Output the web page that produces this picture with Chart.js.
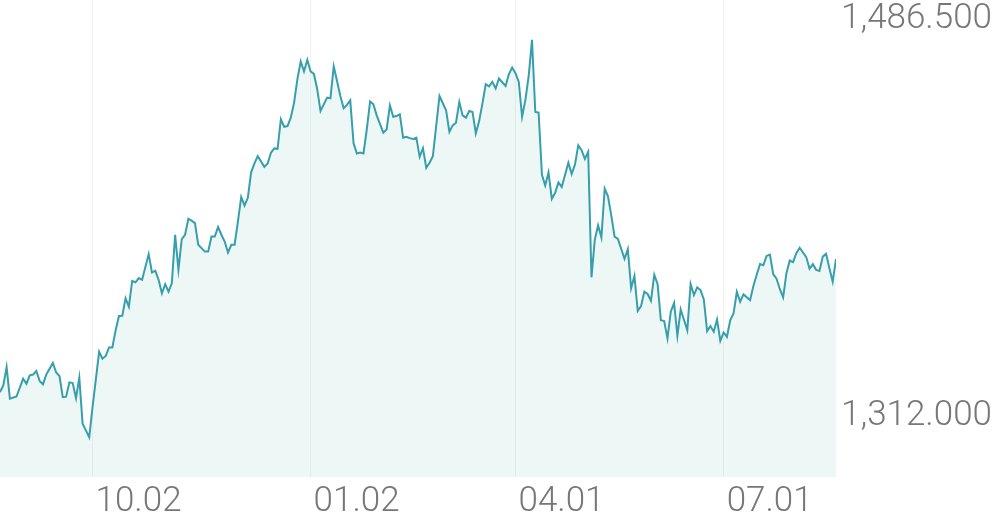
<!DOCTYPE html>
<html>
<head>
<meta charset="utf-8">
<script src="https://cdn.jsdelivr.net/npm/chart.js@4.4.1/dist/chart.umd.min.js"></script>
<style>
  html, body { margin: 0; padding: 0; background: #ffffff; }
  #wrap { width: 996px; height: 519px; position: relative; }
</style>
</head>
<body>
<div id="wrap"><canvas id="c" width="996" height="519"></canvas></div>
<script>
// Trading-day index of each observation
const dayIndex = [
  0,1,2,3,5,7,8,9,10,11,12,13,14,15,16,17,18,19,20,21,22,23,24,25,27,28,
  30,31,32,33,34,35,36,37,38,39,40,41,42,43,45,46,47,48,49,50,51,52,53,54,55,56,57,58,59,60,
  62,63,64,65,66,67,68,69,70,71,72,73,74,75,76,77,78,80,81,82,83,84,85,86,87,88,89,90,
  91,92,93,94,95,96,97,99,100,101,102,103,104,105,106,107,108,109,110,111,112,113,114,116,117,118,119,120,
  121,122,123,124,125,126,127,128,129,130,131,132,133,135,136,137,138,139,140,141,142,143,144,145,146,147,148,149,150,
  151,153,154,155,156,157,158,159,160,161,162,163,164,165,166,167,168,169,170,172,173,174,175,176,177,178,179,180,
  181,182,183,184,185,186,187,189,190,191,192,193,194,195,196,197,198,199,200,201,202,203,204,205,206,208,209,210,
  211,212,213,214,215,216,217,218,219,220,221,222,223,224,225,227,228,229,230,231,232,233,234,235,236,237,238,239,240,
  241,242,244,245,246,247,248,249,250,251,252,253
];
// Exchange rate values
const rate = [
  1331.8,1334.8,1342.8,1328.9,1329.9,1337.7,1335.5,1339.2,1339.5,1341.1,1336.7,1335.2,1339.5,1342.1,1344.6,1340.4,1338.9,1329.6,1329.8,1336.1,1335.8,1329.2,1338.2,1317.9,1312.0,1325.2,
  1349.5,1346.5,1347.7,1351.4,1351.4,1359.0,1365.2,1365.3,1373.0,1369.3,1380.6,1380.0,1381.9,1381.1,1392.4,1384.3,1385.1,1381.1,1375.2,1379.2,1375.9,1379.6,1400.9,1385.5,1399.0,1400.9,1407.9,1407.1,1406.0,1396.5,
  1393.5,1393.5,1400.1,1400.1,1404.3,1400.9,1397.9,1393.1,1396.5,1396.5,1406.7,1417.5,1413.7,1417.1,1428.3,1432.2,1435.4,1430.7,1432.2,1436.9,1438.8,1438.6,1451.6,1448.3,1448.6,1452.3,1458.9,1469.2,
  1477.0,1472.6,1477.7,1472.6,1471.5,1464.8,1455.2,1461.1,1460.8,1474.8,1468.4,1461.8,1456.4,1457.9,1459.9,1441.0,1436.6,1437.0,1436.6,1447.1,1459.4,1458.2,1453.3,1445.7,1447.1,1457.7,1452.7,1453.0,
  1453.8,1443.5,1443.9,1443.3,1442.9,1443.5,1435.1,1438.9,1430.3,1432.5,1435.4,1448.6,1461.8,1455.5,1446.1,1448.9,1450.1,1459.2,1453.3,1452.3,1455.2,1454.8,1445.4,1450.8,1458.5,1467.0,1466.0,1468.0,1465.1,
  1469.5,1466.2,1471.4,1474.3,1471.8,1468.0,1452.7,1460.1,1470.6,1486.5,1454.8,1454.5,1427.3,1422.5,1428.3,1416.7,1419.3,1423.9,1421.9,1432.5,1427.6,1431.7,1440.1,1438.0,1434.2,1437.3,1382.2,1398.7,
  1405.0,1399.7,1421.1,1417.8,1409.3,1400.1,1399.1,1390.3,1394.6,1377.4,1382.8,1367.5,1369.6,1375.9,1374.9,1371.9,1383.3,1379.3,1363.4,1363.0,1355.4,1367.1,1371.0,1356.5,1368.1,1359.0,1379.3,1374.4,
  1377.8,1376.6,1372.5,1358.6,1360.8,1358.3,1363.7,1354.3,1358.0,1356.1,1363.4,1366.4,1375.9,1371.5,1374.7,1372.2,1378.4,1383.3,1388.0,1387.5,1391.6,1392.2,1383.6,1381.6,1377.1,1373.4,1384.0,1389.6,1388.9,
  1392.8,1395.2,1391.1,1386.0,1388.0,1385.5,1385.0,1391.3,1392.5,1386.2,1380.3,1390.2
];
// Date tick labels and their trading-day positions
const tickLabels = ['10.02', '01.02', '04.01', '07.01'];
const tickIndex = [28, 94, 156, 219];

const points = dayIndex.map((d, i) => ({ x: d, y: rate[i] }));
const dataMin = Math.min(...rate);
const dataMax = Math.max(...rate);
const range = dataMax - dataMin;

const FONT = { family: 'Roboto, "Noto Sans", sans-serif', size: 35, weight: '300' };

new Chart(document.getElementById('c'), {
  type: 'line',
  data: {
    datasets: [{
      data: points,
      borderColor: '#379fac',
      borderWidth: 2,
      backgroundColor: 'rgba(50,170,150,0.09)',
      fill: 'start',
      pointRadius: 0,
      tension: 0
    }]
  },
  options: {
    responsive: false,
    animation: false,
    events: [],
    layout: { padding: 0 },
    plugins: { legend: { display: false }, tooltip: { enabled: false } },
    scales: {
      x: {
        type: 'linear',
        min: dayIndex[0],
        max: dayIndex[dayIndex.length - 1],
        offset: false,
        afterBuildTicks: (s) => { s.ticks = tickIndex.map(v => ({ value: v })); },
        afterFit: (s) => { s.height = 42; s.paddingLeft = 0; s.paddingRight = 0; },
        grid: { display: true, color: 'rgba(0,0,0,0.06)', lineWidth: 1, drawTicks: false },
        border: { display: false },
        ticks: {
          autoSkip: false,
          maxRotation: 0,
          align: 'start',
          labelOffset: 3,
          padding: 4,
          color: '#777777',
          font: FONT,
          callback: (v) => { const k = tickIndex.indexOf(v); return k >= 0 ? tickLabels[k] : ''; }
        }
      },
      y: {
        type: 'linear',
        position: 'right',
        min: dataMin - range * 0.1,
        max: dataMax + range * 0.1,
        afterBuildTicks: (s) => { s.ticks = [{ value: dataMin }, { value: dataMax }]; },
        afterFit: (s) => { s.width = 160; s.paddingTop = 0; s.paddingBottom = 0; },
        grid: { display: false, drawTicks: false },
        border: { display: false },
        ticks: {
          labelOffset: -21,
          padding: 5,
          color: '#777777',
          font: FONT,
          callback: (v) => v.toLocaleString('en-US', { minimumFractionDigits: 3, maximumFractionDigits: 3 })
        }
      }
    }
  }
});
</script>
</body>
</html>
